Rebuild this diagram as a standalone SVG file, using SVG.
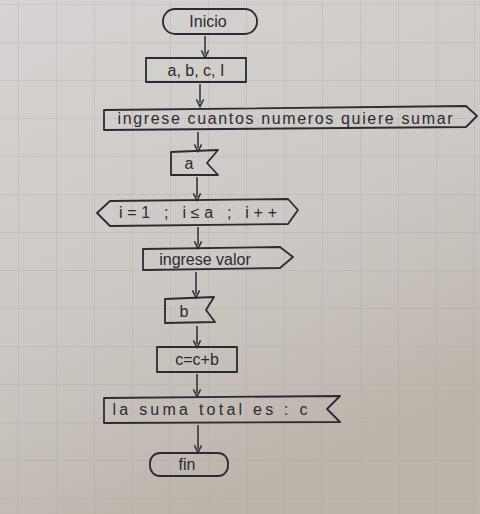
<svg xmlns="http://www.w3.org/2000/svg" width="480" height="514" viewBox="0 0 480 514">
<defs>
<linearGradient id="paper" x1="0" y1="0" x2="0.4" y2="1">
<stop offset="0" stop-color="#d6d3d2"/>
<stop offset="0.6" stop-color="#cdc8c4"/>
<stop offset="1" stop-color="#bdb4ab"/>
</linearGradient>
<pattern id="grid" width="38" height="38" patternUnits="userSpaceOnUse" x="18" y="4">
<path d="M0,0 H38 M0,0 V38" fill="none" stroke="#aaa6a6" stroke-width="1"/>
</pattern>
<marker id="ah" viewBox="0 0 10 10" refX="5" refY="5" markerWidth="6" markerHeight="6" orient="auto">
<path d="M1,1 L9,5 L1,9" fill="none" stroke="#2b2b33" stroke-width="1.6"/>
</marker>
<style>
.s{fill:none;stroke:#2b2b33;stroke-width:1.8;stroke-linejoin:round}
.t{font-family:"Liberation Sans",Arial,sans-serif;font-size:16px;fill:#2b2b33;text-anchor:middle}
.c{fill:none;stroke:#2b2b33;stroke-width:1.5;marker-end:url(#ah)}
</style>
</defs>
<rect width="480" height="514" fill="url(#paper)"/>
<rect width="480" height="514" fill="url(#grid)" opacity="0.6"/>

<g id="connectors">
<line class="c" x1="205" y1="36" x2="205" y2="54"/>
<line class="c" x1="200" y1="84" x2="200" y2="103"/>
<line class="c" x1="198" y1="132" x2="198" y2="148"/>
<line class="c" x1="197" y1="177" x2="197" y2="197"/>
<line class="c" x1="198" y1="227" x2="198" y2="245"/>
<line class="c" x1="196" y1="272" x2="196" y2="294"/>
<line class="c" x1="197" y1="326" x2="197" y2="344"/>
<line class="c" x1="197" y1="374" x2="197" y2="393"/>
<line class="c" x1="198" y1="425" x2="198" y2="449"/>
</g>

<g id="inicio">
<rect class="s" x="163" y="9" width="94" height="25" rx="12"/>
<text class="t" x="208" y="27">Inicio</text>
</g>

<g id="variables">
<rect class="s" x="146" y="58" width="100" height="24"/>
<text class="t" x="196" y="76">a, b, c, I</text>
</g>

<g id="mensaje1">
<path class="s" d="M104,110 L466,106 L477,116 L466,127 L104,130 Z"/>
<text class="t" x="285" y="124" textLength="335" lengthAdjust="spacing">ingrese cuantos numeros quiere sumar</text>
</g>

<g id="leer-a">
<path class="s" d="M171,152 L218,150 L207,163 L218,175 L171,175 Z"/>
<text class="t" x="189" y="169">a</text>
</g>

<g id="bucle">
<path class="s" d="M97,213 L110,201 L288,199 L298,210 L288,224 L110,226 Z"/>
<text class="t" x="198" y="218" textLength="158" lengthAdjust="spacing">i=1 ; i≤a ; i++</text>
</g>

<g id="mensaje2">
<path class="s" d="M143,249 L280,247 L293,257 L280,268 L143,270 Z"/>
<text class="t" x="205" y="265">ingrese valor</text>
</g>

<g id="leer-b">
<path class="s" d="M165,299 L214,297 L206,310 L215,322 L165,323 Z"/>
<text class="t" x="184" y="317">b</text>
</g>

<g id="suma">
<rect class="s" x="157" y="347" width="80" height="25"/>
<text class="t" x="197" y="365">c=c+b</text>
</g>

<g id="resultado">
<path class="s" d="M104,398 L340,396 L327,409 L340,422 L104,423 Z"/>
<text class="t" x="210" y="415" textLength="195" lengthAdjust="spacing">la suma total es : c</text>
</g>

<g id="fin">
<rect class="s" x="150" y="453" width="78" height="23" rx="10"/>
<text class="t" x="187" y="470">fin</text>
</g>
</svg>
